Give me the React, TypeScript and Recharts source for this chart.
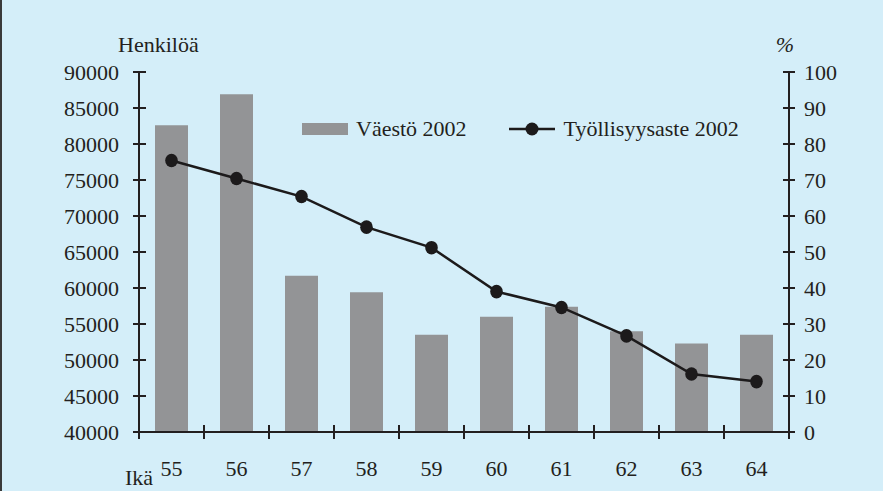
import React from 'react';
import { ComposedChart, Bar, Line, XAxis, YAxis, Label } from 'recharts';

const ages = ['55', '56', '57', '58', '59', '60', '61', '62', '63', '64'];
const population = [82600, 86900, 61700, 59400, 53500, 56000, 57400, 54000, 52300, 53500];
const employmentRate = [75.4, 70.4, 65.4, 56.9, 51.2, 39.0, 34.6, 26.7, 16.1, 14.0];
const leftTicks = [40000, 45000, 50000, 55000, 60000, 65000, 70000, 75000, 80000, 85000, 90000];
const rightTicks = [0, 10, 20, 30, 40, 50, 60, 70, 80, 90, 100];
const seriesNames = ['Väestö 2002', 'Työllisyysaste 2002'];

const data = ages.map((age, i) => ({ age, population: population[i], rate: employmentRate[i] }));

const FONT = '"Liberation Serif", "Times New Roman", Times, serif';
const TEXT = '#231f20';
const BG = '#d4eef9';
const BAR = '#939496';
const LINE = '#1c1a1b';

const W = 883;
const H = 491;
const MARGIN = { top: 72, right: 14, bottom: 0, left: 59 };
const LEFT_W = 80;
const RIGHT_W = 80;
const X_H = 59;
const PLOT_W = W - MARGIN.left - MARGIN.right - LEFT_W - RIGHT_W;
const HALF_BAND = PLOT_W / ages.length / 2;

const textStyle = { fontFamily: FONT, fontSize: 22 };

const XTick = (props: any) => {
  const { x, y, payload, index } = props;
  const isLast = index === ages.length - 1;
  return (
    <g>
      <line x1={x - HALF_BAND} x2={x - HALF_BAND} y1={y - 7} y2={y + 7} stroke={TEXT} strokeWidth={2} />
      {isLast && (
        <line x1={x + HALF_BAND} x2={x + HALF_BAND} y1={y - 7} y2={y + 7} stroke={TEXT} strokeWidth={2} />
      )}
      <text x={x} y={y + 44} textAnchor="middle" style={textStyle} fill={TEXT}>
        {payload.value}
      </text>
    </g>
  );
};

const LeftTick = (props: any) => {
  const { x, y, payload } = props;
  return (
    <g>
      <line x1={x - 6} x2={x + 7} y1={y} y2={y} stroke={TEXT} strokeWidth={2} />
      <text x={x - 20} y={y + 8} textAnchor="end" style={textStyle} fill={TEXT}>
        {payload.value}
      </text>
    </g>
  );
};

const RightTick = (props: any) => {
  const { x, y, payload } = props;
  return (
    <g>
      <line x1={x - 6} x2={x + 6} y1={y} y2={y} stroke={TEXT} strokeWidth={2} />
      <text x={x + 15} y={y + 8} textAnchor="start" style={textStyle} fill={TEXT}>
        {payload.value}
      </text>
    </g>
  );
};

const LegendBox = () => (
  <div
    style={{
      position: 'absolute',
      left: 302,
      top: 114,
      display: 'flex',
      alignItems: 'center',
      fontFamily: FONT,
      fontSize: 22,
      lineHeight: '30px',
      color: TEXT,
      whiteSpace: 'nowrap',
    }}
  >
    <svg width={46} height={14} style={{ marginRight: 8 }}>
      <rect x={0} y={1} width={46} height={12} fill={BAR} />
    </svg>
    <span>{seriesNames[0]}</span>
    <svg width={46} height={16} style={{ marginLeft: 42, marginRight: 9 }}>
      <line x1={0} x2={46} y1={8} y2={8} stroke={LINE} strokeWidth={2.5} />
      <ellipse cx={23} cy={8} rx={6.5} ry={6.5} fill={LINE} />
    </svg>
    <span>{seriesNames[1]}</span>
  </div>
);

const Dot = (props: any) => {
  const { cx, cy } = props;
  if (cx == null || cy == null) return null;
  return <ellipse cx={cx} cy={cy} rx={6.3} ry={6.8} fill={LINE} />;
};

export default function App() {
  return (
    <div
      style={{
        position: 'fixed',
        left: 0,
        top: 0,
        width: W,
        height: H,
        background: BG,
        overflow: 'hidden',
      }}
    >
      <div style={{ position: 'absolute', left: 0, top: 0, width: 2, height: H, background: '#3a3a3a' }} />
      <div style={{ position: 'absolute', left: 0, top: 0 }}>
        <ComposedChart width={W} height={H} data={data} margin={MARGIN}>
          <XAxis
            dataKey="age"
            height={X_H}
            tickSize={0}
            tickMargin={0}
            tick={<XTick />}
            interval={0}
            axisLine={{ stroke: TEXT, strokeWidth: 2 }}
          >
            <Label
              content={(p: any) => {
                const vb = p.viewBox;
                return (
                  <text x={vb.x - 14} y={vb.y + 53} style={textStyle} fill={TEXT}>
                    Ikä
                  </text>
                );
              }}
            />
          </XAxis>
          <YAxis
            yAxisId="left"
            orientation="left"
            width={LEFT_W}
            domain={[40000, 90000]}
            ticks={leftTicks}
            tickSize={0}
            tickMargin={0}
            tick={<LeftTick />}
            interval={0}
            axisLine={{ stroke: TEXT, strokeWidth: 2 }}
          >
            <Label
              content={(p: any) => {
                const vb = p.viewBox;
                return (
                  <text x={vb.x + vb.width - 21} y={vb.y - 20} style={textStyle} fill={TEXT}>
                    Henkilöä
                  </text>
                );
              }}
            />
          </YAxis>
          <YAxis
            yAxisId="right"
            orientation="right"
            width={RIGHT_W}
            domain={[0, 100]}
            ticks={rightTicks}
            tickSize={0}
            tickMargin={0}
            tick={<RightTick />}
            interval={0}
            axisLine={{ stroke: TEXT, strokeWidth: 2 }}
          >
            <Label
              content={(p: any) => {
                const vb = p.viewBox;
                return (
                  <text x={vb.x - 4} y={vb.y - 20} textAnchor="middle" style={{ ...textStyle, fontStyle: 'italic' }} fill={TEXT}>
                    %
                  </text>
                );
              }}
            />
          </YAxis>
          <Bar
            yAxisId="left"
            dataKey="population"
            name={seriesNames[0]}
            fill={BAR}
            barSize={33}
            isAnimationActive={false}
          />
          <Line
            yAxisId="right"
            dataKey="rate"
            name={seriesNames[1]}
            stroke={LINE}
            strokeWidth={2.5}
            dot={<Dot />}
            activeDot={false}
            isAnimationActive={false}
          />
        </ComposedChart>
      </div>
      <LegendBox />
    </div>
  );
}
